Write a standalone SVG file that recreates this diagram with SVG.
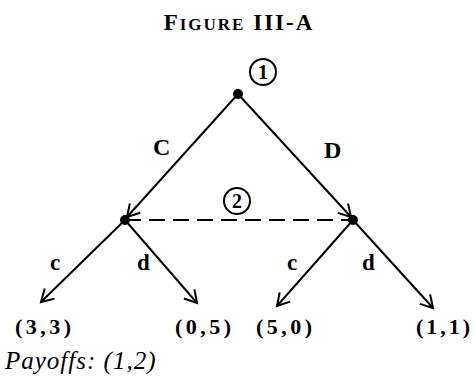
<svg xmlns="http://www.w3.org/2000/svg" width="475" height="377" viewBox="0 0 475 377">
<style>
.e{stroke:#000;stroke-width:2;fill:none}
.t{font-family:"Liberation Serif",serif;font-weight:bold;fill:#000}
.i{font-family:"Liberation Serif",serif;font-style:italic;fill:#000}
.c{stroke:#000;stroke-width:2;fill:#fff}
</style>
<defs>
<marker id="a" markerWidth="16" markerHeight="16" refX="13" refY="8" orient="auto" markerUnits="userSpaceOnUse">
<path d="M1,1 L13,8 L1,15" fill="none" stroke="#000" stroke-width="2"/>
</marker>
</defs>
<rect width="475" height="377" fill="#fff"/>
<text x="239" y="30" text-anchor="middle" class="t" font-size="23" letter-spacing="2">F<tspan font-size="17">IGURE</tspan> III-A</text>
<g id="connectors">
<line class="e" x1="238" y1="94" x2="127" y2="217" marker-end="url(#a)"/>
<line class="e" x1="238" y1="94" x2="351" y2="217" marker-end="url(#a)"/>
<line class="e" x1="125" y1="220" x2="353" y2="220" stroke-dasharray="16,8"/>
<line class="e" x1="125" y1="220" x2="41" y2="302" marker-end="url(#a)"/>
<line class="e" x1="125" y1="220" x2="197" y2="303" marker-end="url(#a)"/>
<line class="e" x1="353" y1="220" x2="277" y2="306" marker-end="url(#a)"/>
<line class="e" x1="353" y1="220" x2="433" y2="308" marker-end="url(#a)"/>
<text class="t" font-size="24" x="153" y="155">C</text>
<text class="t" font-size="24" x="324" y="158">D</text>
<text class="t" font-size="23" x="50" y="270">c</text>
<text class="t" font-size="23" x="137" y="270">d</text>
<text class="t" font-size="23" x="287" y="270">c</text>
<text class="t" font-size="23" x="362" y="270">d</text>
</g>
<g id="n1">
<circle cx="238" cy="94" r="5" fill="#000"/>
<circle class="c" cx="263" cy="72" r="13"/>
<text class="t" font-size="20" x="263" y="79" text-anchor="middle">1</text>
</g>
<g id="n2">
<circle cx="125" cy="220" r="5" fill="#000"/>
<circle cx="353" cy="220" r="5" fill="#000"/>
<circle class="c" cx="237" cy="201" r="13"/>
<text class="t" font-size="20" x="237" y="208" text-anchor="middle">2</text>
</g>
<g id="leaves" class="t" font-size="22">
<text x="15" y="334" letter-spacing="3.5">(3,3)</text>
<text x="175" y="334" letter-spacing="3.5">(0,5)</text>
<text x="256" y="334" letter-spacing="3.5">(5,0)</text>
<text x="416" y="334" letter-spacing="3">(1,1)</text>
</g>
<text x="5" y="369" class="i" font-size="25" letter-spacing="1">Payoffs: (1,2)</text>
</svg>
